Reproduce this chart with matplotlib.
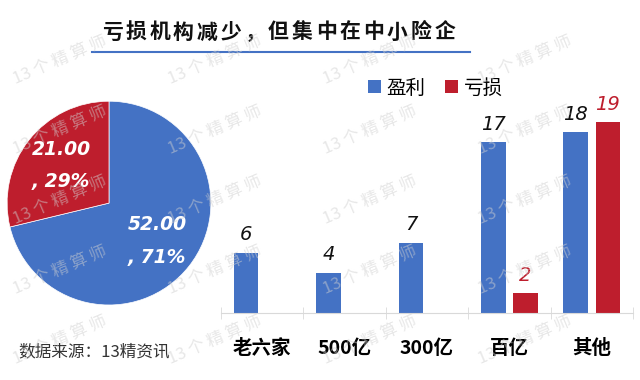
import matplotlib
matplotlib.use("Agg")
import matplotlib.pyplot as plt
from matplotlib.lines import Line2D
import numpy as np

plt.rcParams["font.family"] = ["Noto Sans CJK SC", "DejaVu Sans"]

BLUE = "#4472C4"
RED = "#BE1E2D"

categories = ["老六家", "500亿", "300亿", "百亿", "其他"]
profit = [6, 4, 7, 17, 18]
loss = [0, 0, 0, 2, 19]
series_names = ["盈利", "亏损"]

title = "亏损机构减少，但集中在中小险企"
source = "数据来源：13精资讯"
watermark = "13 个 精 算 师"

fig = plt.figure(figsize=(6.4, 3.8), dpi=100)

# title, letter-spaced, with underline
for cx, ch in zip(np.linspace(112, 445, len(title)), title):
    fig.text(cx / 640, 1 - 32 / 380, ch, ha="center", va="center",
             fontsize=15, fontweight="bold", color="#111111")
fig.add_artist(Line2D([92 / 640, 470 / 640], [1 - 52 / 380] * 2, color=BLUE, lw=1.5))

# pie of totals
totals = [sum(profit), sum(loss)]
ax_pie = fig.add_axes([0.0078, 0.192, 0.325, 0.547])
_, _, autotexts = ax_pie.pie(
    totals, colors=[BLUE, RED], startangle=90, counterclock=False,
    autopct=lambda p: f"{p * sum(totals) / 100:.2f}\n, {p:.0f}%",
    pctdistance=0.6,
    wedgeprops=dict(edgecolor="white", linewidth=0.5),
    textprops=dict(color="white", fontsize=13.5, style="italic", fontweight="bold",
                   family="DejaVu Sans"),
)
for t in autotexts:
    t.set_linespacing(1.9)
ax_pie.set_xlim(-1.02, 1.02)
ax_pie.set_ylim(-1.02, 1.02)
ax_pie.set_aspect("equal")

# grouped bars
ax = fig.add_axes([0.3453, 0.1763, 0.6438, 0.5289])
x = np.arange(len(categories))
w, off = 0.30, 0.195
b1 = ax.bar(x - off, profit, w, color=BLUE, label=series_names[0])
b2 = ax.bar(x + off, loss, w, color=RED, label=series_names[1])
ax.set_xlim(-0.5, len(categories) - 0.5)
ax.set_ylim(0, 20)
for s in ["top", "left", "right"]:
    ax.spines[s].set_visible(False)
ax.spines["bottom"].set_color("#D9D9D9")
ax.set_yticks([])
ax.set_xticks(x, categories, fontsize=14, fontweight="bold")
ax.tick_params(axis="x", length=0, pad=19)
ax.set_xticks(np.arange(-0.5, len(categories), 1), minor=True)
ax.tick_params(axis="x", which="minor", length=8, direction="inout", color="#D9D9D9")

lab = dict(padding=6, fontsize=14, style="italic", family="DejaVu Sans")
ax.bar_label(b1, labels=[str(v) for v in profit], color="#111111", **lab)
ax.bar_label(b2, labels=[str(v) if v else "" for v in loss], color=RED, **lab)

ax.legend(handles=[b1, b2], loc="center left", bbox_to_anchor=(0.357, 1.119),
          ncol=2, frameon=False, fontsize=14, handlelength=0.65, handleheight=0.65,
          handletextpad=0.3, columnspacing=1.0, borderaxespad=0, borderpad=0)

fig.text(0.028, 0.074, source, fontsize=12, color="#333333", ha="left", va="center")

# watermark grid
for yy in np.arange(60, 360, 70):
    for xx in np.arange(60, 600, 155):
        fig.text(xx / 640, 1 - yy / 380, watermark, rotation=23, ha="center", va="center",
                 rotation_mode="anchor", fontsize=12, color="#d0d0d0", alpha=0.5, zorder=10)

fig.savefig("out.png", dpi=100)
